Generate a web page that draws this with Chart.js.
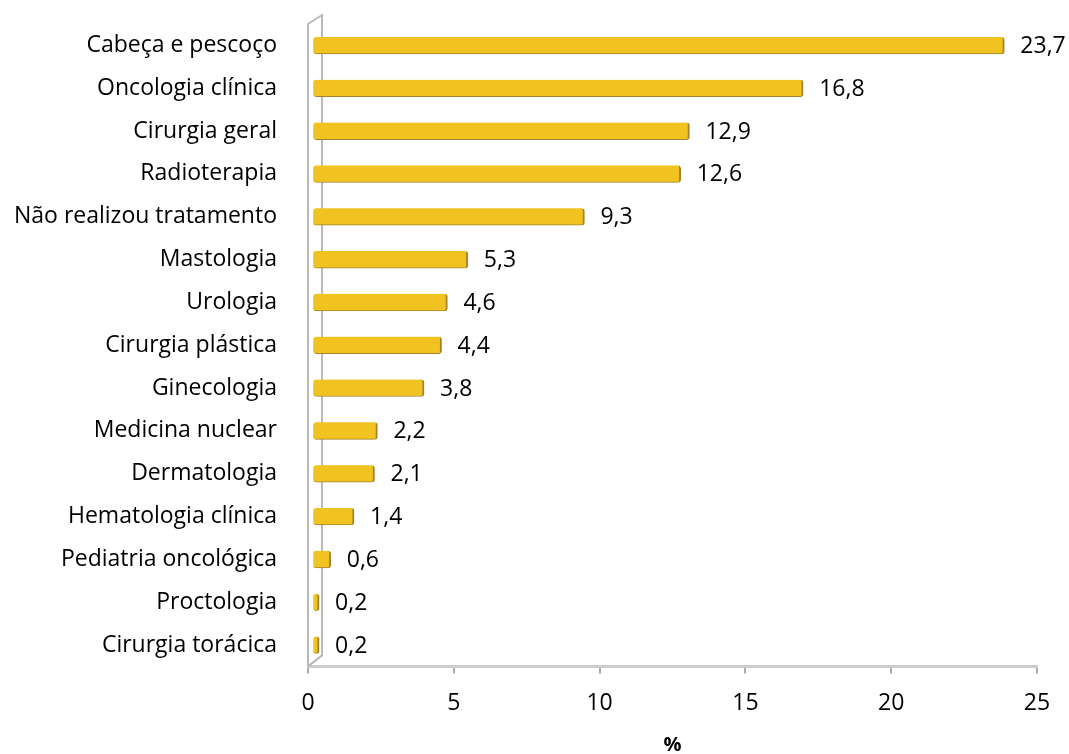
<!DOCTYPE html>
<html>
<head>
<meta charset="utf-8">
<script src="https://cdn.jsdelivr.net/npm/chart.js@4"></script>
<style>
  body { margin: 0; background: #fff; }
  #wrap { width: 1069px; height: 754px; }
</style>
</head>
<body>
<div id="wrap"><canvas id="chart"></canvas></div>
<script>
const categories = [
  'Cabeça e pescoço',
  'Oncologia clínica',
  'Cirurgia geral',
  'Radioterapia',
  'Não realizou tratamento',
  'Mastologia',
  'Urologia',
  'Cirurgia plástica',
  'Ginecologia',
  'Medicina nuclear',
  'Dermatologia',
  'Hematologia clínica',
  'Pediatria oncológica',
  'Proctologia',
  'Cirurgia torácica',
]
const percents = [23.7, 16.8, 12.9, 12.6, 9.3, 5.3, 4.6, 4.4, 3.8, 2.2, 2.1, 1.4, 0.6, 0.2, 0.2]
const xTicks = [0, 5, 10, 15, 20, 25]

const fontFam = '"Open Sans", Lato, sans-serif'
const fontSize = 23
const wallColor = 'rgb(185, 185, 185)'

// gold bar with a little vertical shading, like the 3d cylinder look
function barFill(ctx) {
  const el = ctx.element
  if (!el || el.y === undefined) return 'rgb(240, 195, 32)'
  const c = ctx.chart.ctx
  const h = el.height / 2
  const g = c.createLinearGradient(0, el.y - h, 0, el.y + h)
  g.addColorStop(0, 'rgb(205, 165, 45)')
  g.addColorStop(0.25, 'rgb(246, 202, 40)')
  g.addColorStop(0.6, 'rgb(240, 195, 32)')
  g.addColorStop(1, 'rgb(150, 120, 45)')
  return g
}

const wallPlugin = {
  id: 'wall',
  beforeDatasetsDraw(chart) {
    const { ctx, chartArea } = chart
    const x0 = chartArea.left
    const d = 14
    const top = chartArea.top
    const bot = chartArea.bottom
    ctx.save()
    ctx.strokeStyle = wallColor
    ctx.lineWidth = 2
    ctx.beginPath()
    ctx.moveTo(x0, bot)
    ctx.lineTo(x0, top)
    ctx.lineTo(x0 + d, top - 9)
    ctx.lineTo(x0 + d, bot - 11)
    ctx.lineTo(x0, bot)
    ctx.stroke()
    ctx.restore()
  }
}

const labelPlugin = {
  id: 'valueLabels',
  afterDatasetsDraw(chart) {
    const { ctx } = chart
    const meta = chart.getDatasetMeta(0)
    ctx.save()
    ctx.font = fontSize + 'px ' + fontFam
    ctx.fillStyle = '#000'
    ctx.textBaseline = 'middle'
    ctx.textAlign = 'left'
    meta.data.forEach((bar, i) => {
      const txt = percents[i].toFixed(1).replace('.', ',')
      ctx.fillText(txt, bar.x + 16, bar.y + 1)
    })
    ctx.restore()
  }
}

new Chart(document.getElementById('chart'), {
  type: 'bar',
  data: {
    labels: categories,
    datasets: [{
      data: percents,
      xAxisID: 'xBar',
      backgroundColor: barFill,
      borderColor: 'rgb(165, 130, 45)',
      borderWidth: { top: 0, left: 0, bottom: 1, right: 2 },
      borderRadius: 3,
      borderSkipped: false,
      barThickness: 17,
    }]
  },
  options: {
    indexAxis: 'y',
    responsive: true,
    maintainAspectRatio: false,
    animation: false,
    layout: { padding: { top: 24, right: 32, bottom: -3, left: 0 } },
    plugins: {
      legend: { display: false },
      tooltip: { enabled: false },
    },
    scales: {
      x: {
        min: 0,
        max: 25,
        afterBuildTicks: axis => { axis.ticks = xTicks.map(v => ({ value: v })) },
        border: { display: true, color: 'rgb(205, 205, 205)', width: 3 },
        grid: { display: true, drawOnChartArea: false, drawTicks: true, tickLength: 7, color: 'rgb(170, 170, 170)', lineWidth: 2 },
        ticks: { color: '#000', font: { family: fontFam, size: fontSize }, padding: 16 },
        title: { display: true, text: '%', color: '#000', font: { family: fontFam, size: 20, weight: 'bold' }, padding: { top: 0, bottom: 0 } },
      },
      xBar: {
        display: false,
        min: -0.18,
        max: 24.82,
      },
      y: {
        border: { display: false },
        grid: { display: false },
        ticks: { color: '#000', font: { family: fontFam, size: fontSize }, padding: 23 },
        afterFit: axis => {
          axis.width = 308
          axis.paddingTop = 0
          axis.paddingBottom = 0
        },
      },
    },
  },
  plugins: [wallPlugin, labelPlugin],
})
</script>
</body>
</html>
